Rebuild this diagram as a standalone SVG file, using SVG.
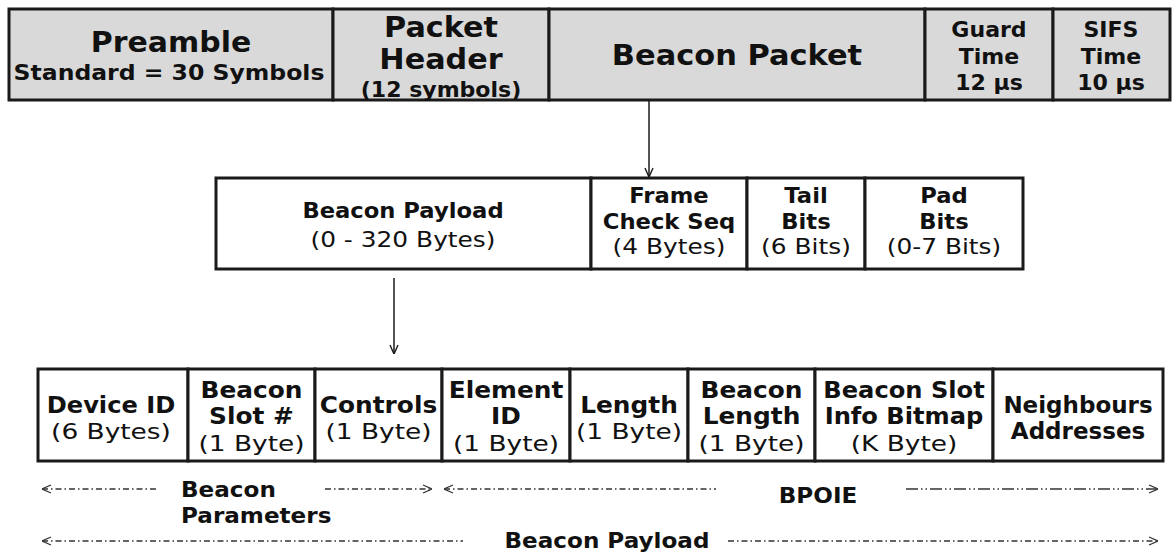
<svg xmlns="http://www.w3.org/2000/svg" width="1173" height="553" viewBox="0 0 1173 553">
  <style>
    .top { fill: #d9d9d9; stroke: #1a1a1a; stroke-width: 3; }
    .box { fill: #ffffff; stroke: #1a1a1a; stroke-width: 3; }
    text { font-family: "DejaVu Sans", "Liberation Sans", sans-serif; fill: #111111; text-anchor: middle;
           transform-box: fill-box; transform-origin: center; }
    .b { font-weight: bold; }
    .r { font-weight: normal; }
    /* horizontal widening of the lettering, per band */
    .w05 { transform: scaleX(1.05); }
    .w07 { transform: scaleX(1.07); }
    .w08 { transform: scaleX(1.08); }
    .w13 { transform: scaleX(1.13); }
    .w20 { transform: scaleX(1.2); }
    .lab { text-anchor: start; transform-origin: left center; transform: scaleX(1.05); }
    .link { stroke: #1a1a1a; stroke-width: 1.5; fill: none; }
    .span { stroke: #333333; stroke-width: 1.3; fill: none; stroke-dasharray: 6 3 1.5 3; }
    .span2 { stroke: #333333; stroke-width: 1.3; fill: none; stroke-dasharray: 12 3 1.5 3 1.5 3; }
  </style>
  <defs>
    <marker id="vee" viewBox="0 0 10 10" refX="10" refY="5" markerWidth="10" markerHeight="10" markerUnits="userSpaceOnUse" orient="auto">
      <path d="M1,1 L10,5 L1,9" fill="none" stroke="#1a1a1a" stroke-width="1.4"/>
    </marker>
    <marker id="chev" viewBox="0 0 10 10" refX="10" refY="5" markerWidth="10" markerHeight="10" markerUnits="userSpaceOnUse" orient="auto-start-reverse">
      <path d="M1,1 L10,5 L1,9" fill="none" stroke="#333333" stroke-width="1.3" stroke-dasharray="none"/>
    </marker>
  </defs>

  <!-- frame layout -->
  <g id="preamble">
    <rect class="top" x="9" y="9" width="324" height="91"/>
    <text class="b w07" x="171" y="52" font-size="28">Preamble</text>
    <text class="b w07" x="169" y="80" font-size="22">Standard = 30 Symbols</text>
  </g>
  <g id="packet-header">
    <rect class="top" x="333" y="9" width="216" height="91"/>
    <text class="b w08" x="441" y="37" font-size="28">Packet</text>
    <text class="b w08" x="441" y="69" font-size="28">Header</text>
    <text class="b w05" x="441" y="97" font-size="21">(12 symbols)</text>
  </g>
  <g id="beacon-packet">
    <rect class="top" x="549" y="9" width="376" height="91"/>
    <text class="b w05" x="737" y="65" font-size="29">Beacon Packet</text>
  </g>
  <g id="guard-time">
    <rect class="top" x="925" y="9" width="128" height="91"/>
    <text class="b w05" x="989" y="37" font-size="21">Guard</text>
    <text class="b w05" x="989" y="64" font-size="21">Time</text>
    <text class="b w05" x="989" y="90" font-size="21">12 μs</text>
  </g>
  <g id="sifs-time">
    <rect class="top" x="1053" y="9" width="117" height="91"/>
    <text class="b w05" x="1111" y="37" font-size="21">SIFS</text>
    <text class="b w05" x="1111" y="64" font-size="21">Time</text>
    <text class="b w05" x="1111" y="90" font-size="21">10 μs</text>
  </g>

  <!-- beacon packet layout -->
  <g id="beacon-payload">
    <rect class="box" x="216" y="178" width="375" height="91"/>
    <text class="b w08" x="403" y="218" font-size="21">Beacon Payload</text>
    <text class="r w13" x="403" y="247" font-size="22">(0 - 320 Bytes)</text>
  </g>
  <g id="fcs">
    <rect class="box" x="591" y="178" width="156" height="91"/>
    <text class="b w08" x="669" y="203" font-size="21">Frame</text>
    <text class="b w08" x="669" y="229" font-size="21">Check Seq</text>
    <text class="r w13" x="669" y="254" font-size="22">(4 Bytes)</text>
  </g>
  <g id="tail-bits">
    <rect class="box" x="747" y="178" width="118" height="91"/>
    <text class="b w08" x="806" y="203" font-size="21">Tail</text>
    <text class="b w08" x="806" y="229" font-size="21">Bits</text>
    <text class="r w13" x="806" y="254" font-size="22">(6 Bits)</text>
  </g>
  <g id="pad-bits">
    <rect class="box" x="865" y="178" width="158" height="91"/>
    <text class="b w08" x="944" y="203" font-size="21">Pad</text>
    <text class="b w08" x="944" y="229" font-size="21">Bits</text>
    <text class="r w13" x="944" y="254" font-size="22">(0-7 Bits)</text>
  </g>

  <!-- beacon payload fields -->
  <g id="device-id">
    <rect class="box" x="38" y="369" width="150" height="92"/>
    <text class="b w05" x="111" y="413" font-size="23">Device ID</text>
    <text class="r w20" x="111" y="439" font-size="22">(6 Bytes)</text>
  </g>
  <g id="beacon-slot">
    <rect class="box" x="188" y="369" width="127" height="92"/>
    <text class="b w08" x="251.5" y="398" font-size="23">Beacon</text>
    <text class="b w08" x="251.5" y="424" font-size="23">Slot #</text>
    <text class="r w20" x="251.5" y="451" font-size="22">(1 Byte)</text>
  </g>
  <g id="controls">
    <rect class="box" x="315" y="369" width="127" height="92"/>
    <text class="b w08" x="378.5" y="413" font-size="23">Controls</text>
    <text class="r w20" x="378.5" y="439" font-size="22">(1 Byte)</text>
  </g>
  <g id="element-id">
    <rect class="box" x="442" y="369" width="128" height="92"/>
    <text class="b w08" x="506" y="398" font-size="23">Element</text>
    <text class="b w08" x="506" y="424" font-size="23">ID</text>
    <text class="r w20" x="506" y="451" font-size="22">(1 Byte)</text>
  </g>
  <g id="length">
    <rect class="box" x="570" y="369" width="118" height="92"/>
    <text class="b w08" x="629" y="413" font-size="23">Length</text>
    <text class="r w20" x="629" y="439" font-size="22">(1 Byte)</text>
  </g>
  <g id="beacon-length">
    <rect class="box" x="688" y="369" width="127" height="92"/>
    <text class="b w08" x="751.5" y="398" font-size="23">Beacon</text>
    <text class="b w08" x="751.5" y="424" font-size="23">Length</text>
    <text class="r w20" x="751.5" y="451" font-size="22">(1 Byte)</text>
  </g>
  <g id="slot-bitmap">
    <rect class="box" x="815" y="369" width="178" height="92"/>
    <text class="b w05" x="904" y="398" font-size="23">Beacon Slot</text>
    <text class="b w05" x="904" y="424" font-size="23">Info Bitmap</text>
    <text class="r w20" x="904" y="451" font-size="22">(K Byte)</text>
  </g>
  <g id="neighbours">
    <rect class="box" x="993" y="369" width="170" height="92"/>
    <text class="b" x="1078" y="413" font-size="23">Neighbours</text>
    <text class="b" x="1078" y="439" font-size="23">Addresses</text>
  </g>

  <!-- expansion arrows -->
  <g id="connectors">
    <line class="link" x1="649" y1="100" x2="649" y2="177" marker-end="url(#vee)"/>
    <line class="link" x1="394" y1="278" x2="394" y2="354" marker-end="url(#vee)"/>
  </g>

  <!-- extent markers under the fields -->
  <g id="extents">
    <line class="span" x1="42" y1="489" x2="158" y2="489" marker-start="url(#chev)"/>
    <line class="span" x1="325" y1="489" x2="432" y2="489" marker-end="url(#chev)"/>
    <line class="span" x1="444" y1="489" x2="716" y2="489" marker-start="url(#chev)"/>
    <line class="span2" x1="906" y1="489" x2="1158" y2="489" marker-end="url(#chev)"/>
    <line class="span" x1="42" y1="541" x2="463" y2="541" marker-start="url(#chev)"/>
    <line class="span" x1="728" y1="541" x2="1158" y2="541" marker-end="url(#chev)"/>
  </g>
  <g id="extent-labels">
    <text class="b lab" x="181" y="497" font-size="22">Beacon</text>
    <text class="b lab" x="181" y="523" font-size="22">Parameters</text>
    <text class="b w05" x="818" y="503" font-size="22">BPOIE</text>
    <text class="b w05" x="607" y="548" font-size="22">Beacon Payload</text>
  </g>
</svg>
